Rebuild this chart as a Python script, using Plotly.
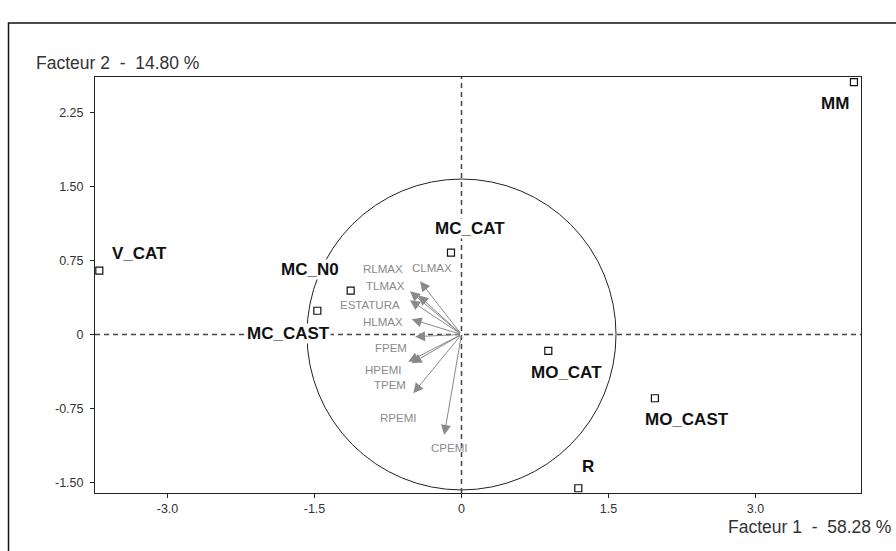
import plotly.graph_objects as go

# Individuals (projected on factors 1 and 2)
individuals = ["MM", "V_CAT", "MC_N0", "MC_CAST", "MC_CAT", "MO_CAT", "MO_CAST", "R"]
ind_f1 = [4.005, -3.696, -1.131, -1.471, -0.107, 0.886, 1.974, 1.192]
ind_f2 = [2.561, 0.647, 0.444, 0.241, 0.830, -0.167, -0.647, -1.560]

# Variables (correlation circle, scaled)
variables = ["CLMAX", "RLMAX", "TLMAX", "ESTATURA", "HLMAX", "FPEM", "HPEMI", "TPEM", "RPEMI", "CPEMI"]
var_f1 = [-0.423, -0.526, -0.441, -0.526, -0.508, -0.474, -0.543, -0.508, -0.492, -0.176]
var_f2 = [0.540, 0.438, 0.398, 0.347, 0.154, -0.022, -0.276, -0.292, -0.596, -1.019]

circle_radius = 1.577

x_ticks = [-3.0, -1.5, 0, 1.5, 3.0]
x_tick_text = ["-3.0", "-1.5", "0", "1.5", "3.0"]
y_ticks = [-1.5, -0.75, 0, 0.75, 1.5, 2.25]
y_tick_text = ["-1.50", "-0.75", "0", "0.75", "1.50", "2.25"]

x_title = "Facteur 1\u00a0\u00a0-\u00a0\u00a058.28 %"
y_title = "Facteur 2\u00a0\u00a0-\u00a0\u00a014.80 %"

# Layout geometry (pixels)
W, H = 896, 551
ML, MR, MT, MB = 95, 35, 77, 58
PW, PH = W - ML - MR, H - MT - MB
X_RANGE = [-3.74, 4.077]
Y_RANGE = [-1.608, 2.612]

# Label offsets in pixels (dx right, dy down)
ind_label_offsets = [(-19, 21), (40, -17), (-41, -21), (-29, 23), (19, -24), (18, 22), (32, 21), (10, -22)]
var_label_offsets = [(12, -13), (-27, -22), (-33, -9), (-40, 5), (-29, 3), (-24, 11),
                     (-25, 8), (-22, 22), (-15, 25), (5, 13)]

FONT = "Liberation Sans, Arial, sans-serif"
GREY = "#8a8a8a"


def px_to_paper(px, py):
    return (px - ML) / PW, (H - MB - py) / PH


fig = go.Figure()

fig.add_trace(go.Scatter(
    x=ind_f1, y=ind_f2, mode="markers",
    marker=dict(symbol="square-open", size=7, color="#111", line=dict(width=1.2)),
    hoverinfo="text", text=individuals, showlegend=False,
))

annotations = []

# Variable arrows from the origin
for name, vx, vy, (dx, dy) in zip(variables, var_f1, var_f2, var_label_offsets):
    annotations.append(dict(
        x=vx, y=vy, ax=0, ay=0, xref="x", yref="y", axref="x", ayref="y",
        text="", showarrow=True, arrowhead=2, arrowsize=2, arrowwidth=1,
        arrowcolor=GREY,
    ))
    annotations.append(dict(
        x=vx, y=vy, xref="x", yref="y", text=name, showarrow=False,
        xshift=dx, yshift=-dy, font=dict(family=FONT, size=11.5, color=GREY),
    ))

# Individual labels (white box hides lines running behind them)
for name, ix, iy, (dx, dy) in zip(individuals, ind_f1, ind_f2, ind_label_offsets):
    annotations.append(dict(
        x=ix, y=iy, xref="x", yref="y", text="<b>%s</b>" % name, showarrow=False,
        xshift=dx, yshift=-dy, bgcolor="white", borderpad=0,
        font=dict(family=FONT, size=17, color="#111"),
    ))

# Axis titles
tx, ty = px_to_paper(34, 63)
annotations.append(dict(x=tx, y=ty, xref="paper", yref="paper", text=y_title,
                        showarrow=False, xanchor="left", yanchor="middle",
                        font=dict(family=FONT, size=17.5, color="#333")))
tx, ty = px_to_paper(893, 527)
annotations.append(dict(x=tx, y=ty, xref="paper", yref="paper", text=x_title,
                        showarrow=False, xanchor="right", yanchor="middle",
                        font=dict(family=FONT, size=17.5, color="#333")))

shapes = []
# Correlation circle
shapes.append(dict(type="circle", xref="x", yref="y",
                   x0=-circle_radius, x1=circle_radius, y0=-circle_radius, y1=circle_radius,
                   line=dict(color="#222", width=1)))
# Dashed origin axes
shapes.append(dict(type="line", xref="paper", yref="y", x0=0, x1=1, y0=0, y1=0,
                   line=dict(color="#444", width=1.5, dash="5px,4px")))
shapes.append(dict(type="line", xref="x", yref="paper", x0=0, x1=0, y0=0, y1=1,
                   line=dict(color="#444", width=1.5, dash="5px,4px")))
# Outer frame
fx0, fy1 = px_to_paper(8.5, 23)
fx1, fy0 = px_to_paper(W + 10, H + 10)
shapes.append(dict(type="rect", xref="paper", yref="paper", x0=fx0, x1=fx1, y0=fy0, y1=fy1,
                   line=dict(color="#111", width=1.5), layer="below"))

axis_common = dict(showgrid=False, zeroline=False, showline=True, mirror=True,
                   linecolor="#222", linewidth=1, ticks="outside", ticklen=4,
                   tickcolor="#222", tickfont=dict(family=FONT, size=12.5, color="#333"))

fig.update_layout(
    width=W, height=H,
    margin=dict(l=ML, r=MR, t=MT, b=MB),
    paper_bgcolor="white", plot_bgcolor="white",
    xaxis=dict(range=X_RANGE, tickmode="array", tickvals=x_ticks, ticktext=x_tick_text,
               **axis_common),
    yaxis=dict(range=Y_RANGE, tickmode="array", tickvals=y_ticks, ticktext=y_tick_text,
               ticklabelstandoff=4, **axis_common),
    annotations=annotations,
    shapes=shapes,
)

fig.write_html("out.html")
